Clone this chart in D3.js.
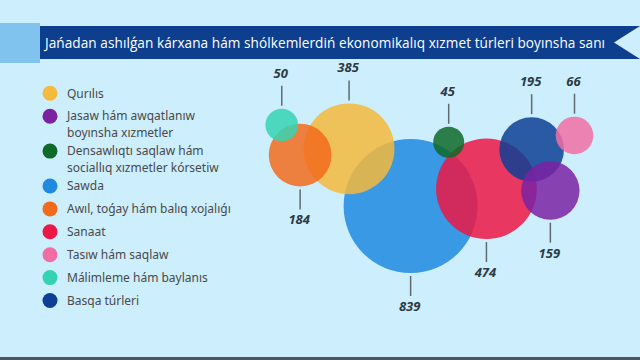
<!DOCTYPE html>
<html>
<head>
<meta charset="utf-8">
<script src="https://cdn.jsdelivr.net/npm/d3@7"></script>
<style>
  html, body { margin: 0; padding: 0; background: #cdeefc; }
  svg { display: block; }
</style>
</head>
<body>
<svg id="chart" width="640" height="360"></svg>
<script>
// ---- data ----
const title = "Jańadan ashılǵan kárxana hám shólkemlerdiń ekonomikalıq xızmet túrleri boyınsha sanı";
const categories = [
  "Qurılıs",
  "Jasaw hám awqatlanıw boyınsha xızmetler",
  "Densawlıqtı saqlaw hám sociallıq xızmetler kórsetiw",
  "Sawda",
  "Awıl, toǵay hám balıq xojalıǵı",
  "Sanaat",
  "Tasıw hám saqlaw",
  "Málimleme hám baylanıs",
  "Basqa túrleri"
];
const values = [385, 159, 45, 839, 184, 474, 66, 50, 195];
const colors = ["#f5b93c", "#7b22a3", "#0e6a29", "#1e8ae0", "#f26b1d", "#ec1747", "#f06ea3", "#35d3b4", "#0d3f94"];

// ---- layout (bubble placement in abstract layout units, label side, legend wrapping) ----
const layoutX = [26.2, 85.4, 55.5, 44.3, 11.8, 66.6, 92.5, 6.4, 79.9];
const layoutY = [27.1, 50.3, 23.5, 58.9, 30.6, 49.3, 19.7, 13.9, 27.5];
const labelSide = ["top", "bottom", "top", "bottom", "bottom", "bottom", "top", "top", "top"];
const wrapAfter = [0, 3, 3, 0, 0, 0, 0, 0, 0];
const drawOrder = [3, 5, 0, 4, 7, 2, 8, 1, 6];

const svg = d3.select("#chart");
const W = 640, H = 360;

svg.append("rect").attr("width", W).attr("height", H).attr("fill", "#cdeefc");
svg.append("rect").attr("x", 0).attr("y", H - 3).attr("width", W).attr("height", 3).attr("fill", "#4b5660");

// header
svg.append("rect").attr("x", 0).attr("y", 23).attr("width", 40).attr("height", 40).attr("fill", "#7fc3ee");
svg.append("path")
  .attr("d", "M40,26 L640,26 L614,42.5 L640,59 L40,59 Z")
  .attr("fill", "#0e3f8f");
svg.append("text")
  .attr("x", 45).attr("y", 47.5)
  .attr("font-family", "'Open Sans', sans-serif")
  .attr("font-size", 13.6)
  .attr("textLength", 560)
  .attr("lengthAdjust", "spacing")
  .attr("fill", "#ffffff")
  .text(title);

// scales
const x = d3.scaleLinear().domain([0, 100]).range([260, 600]);
const y = d3.scaleLinear().domain([0, 100]).range([100, 280]);
const r = d3.scaleSqrt().domain([0, d3.max(values)]).range([0, 67]);

const items = values.map((v, i) => ({ i, v, cat: categories[i], color: colors[i] }));

// bubbles
const gB = svg.append("g");
gB.selectAll("circle")
  .data(drawOrder.map(i => items[i]))
  .join("circle")
  .attr("cx", d => x(layoutX[d.i]))
  .attr("cy", d => y(layoutY[d.i]))
  .attr("r", d => r(d.v))
  .attr("fill", d => d.color)
  .attr("fill-opacity", 0.85);

// value labels with leader lines
const gL = svg.append("g");
items.forEach(d => {
  const cx = x(layoutX[d.i]), cy = y(layoutY[d.i]), rr = r(d.v);
  const up = labelSide[d.i] === "top";
  const y0 = up ? cy - rr - 3 : cy + rr + 3;
  const y1 = up ? y0 - 20 : y0 + 20;
  gL.append("line")
    .attr("x1", cx).attr("x2", cx).attr("y1", y0).attr("y2", y1)
    .attr("stroke", "#5f6b72").attr("stroke-width", 1.5);
  gL.append("text")
    .attr("x", cx - 1)
    .attr("y", up ? y1 - 8 : y1 + 15)
    .attr("text-anchor", "middle")
    .attr("font-family", "'Open Sans', sans-serif")
    .attr("font-weight", "bold")
    .attr("font-style", "italic")
    .attr("font-size", 13)
    .attr("fill", "#2c3a46")
    .text(d.v);
});

// legend
const gLeg = svg.append("g");
let ly = 93.3;
items.forEach(d => {
  const words = d.cat.split(" ");
  const lines = wrapAfter[d.i] > 0
    ? [words.slice(0, wrapAfter[d.i]).join(" "), words.slice(wrapAfter[d.i]).join(" ")]
    : [d.cat];
  gLeg.append("circle")
    .attr("cx", 50).attr("cy", ly).attr("r", 7.5)
    .attr("fill", d.color);
  lines.forEach((ln, k) => {
    gLeg.append("text")
      .attr("x", 67).attr("y", ly + 4.2 + k * 16.4)
      .attr("font-family", "'Noto Sans', sans-serif")
      .attr("font-size", 12)
      .attr("fill", "#4a4a4a")
      .text(ln);
  });
  ly += 22.9 + 12 * (lines.length - 1);
});
</script>
</body>
</html>
